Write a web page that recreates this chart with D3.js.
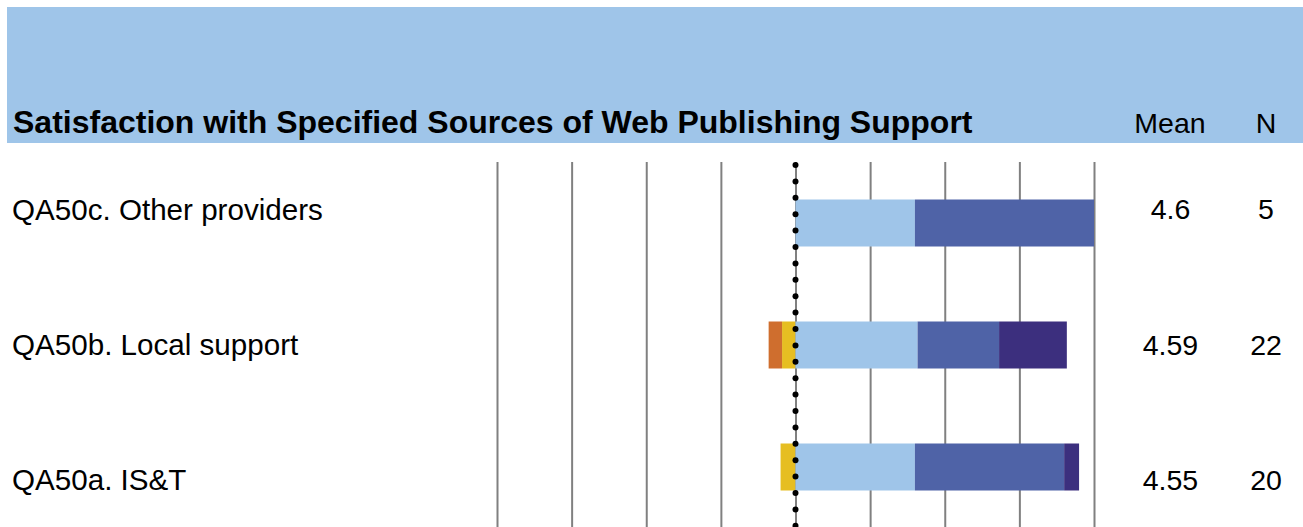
<!DOCTYPE html>
<html><head><meta charset="utf-8">
<script src="https://cdn.jsdelivr.net/npm/d3@7"></script>
<style>html,body{margin:0;padding:0;background:#fff;}svg{display:block;}</style>
</head><body>
<svg id="c" width="1303" height="527"></svg>
<script>
const title = "Satisfaction with Specified Sources of Web Publishing Support";
const categories = ["QA50c. Other providers", "QA50b. Local support", "QA50a. IS&T"];
const pctDissatisfied   = [0, 4.5, 0];
const pctSomewhatDiss   = [0, 4.5, 5];
const pctSomewhatSat    = [40, 40.9, 40];
const pctSatisfied      = [60, 27.3, 50];
const pctVerySatisfied  = [0, 22.7, 5];
const means = ["4.6", "4.59", "4.55"];
const ns = ["5", "22", "20"];
const tickValues = [-100, -75, -50, -25, 0, 25, 50, 75, 100];

const colNeg = ["#CF6E2E", "#E6BE22"]; // outer, inner
const colPos = ["#9FC5E9", "#4F63A7", "#3C2F7E"];

const svg = d3.select("#c");
const font = "'Liberation Sans', Arial, sans-serif";

// header band
svg.append("rect").attr("x", 7).attr("y", 7).attr("width", 1296).attr("height", 136).attr("fill", "#9FC5E9");
svg.append("text").attr("x", 13).attr("y", 132.5).attr("font-family", font).attr("font-weight", "bold")
  .attr("font-size", 32).attr("fill", "#000").text(title);
svg.append("text").attr("x", 1170).attr("y", 132.5).attr("text-anchor", "middle").attr("font-family", font)
  .attr("font-size", 28.5).text("Mean");
svg.append("text").attr("x", 1266).attr("y", 132.5).attr("text-anchor", "middle").attr("font-family", font)
  .attr("font-size", 28.5).text("N");

const x = d3.scaleLinear().domain([-100, 100]).range([497, 1094]);
const y = d3.scaleBand().domain(categories).range([162, 528]).padding(0);
const yText = d3.scaleBand().domain(categories).range([141.5, 547.5]).padding(0);
const barH = 47;

// gridlines
const axis = d3.axisBottom(x).tickValues(tickValues).tickSize(366).tickFormat("");
const g = svg.append("g").attr("transform", "translate(0,162)").call(axis);
g.select(".domain").remove();
g.selectAll(".tick line").attr("stroke", "#808080").attr("stroke-width", 2);

// bars
categories.forEach((c, i) => {
  const cy = y(c) + y.bandwidth() / 2;
  const ty = yText(c) + yText.bandwidth() / 2;
  const segs = [];
  let left = 0;
  left -= pctSomewhatDiss[i]; segs.push([left, left + pctSomewhatDiss[i], colNeg[1]]);
  left -= pctDissatisfied[i]; segs.push([left, left + pctDissatisfied[i], colNeg[0]]);
  let right = 0;
  [pctSomewhatSat[i], pctSatisfied[i], pctVerySatisfied[i]].forEach((v, k) => {
    segs.push([right, right + v, colPos[k]]); right += v;
  });
  svg.append("g").selectAll("rect").data(segs.filter(s => s[1] > s[0])).join("rect")
    .attr("x", d => x(d[0])).attr("width", d => x(d[1]) - x(d[0]))
    .attr("y", cy - barH / 2).attr("height", barH).attr("fill", d => d[2]);

  svg.append("text").attr("x", 12).attr("y", ty).attr("dy", "0.36em").attr("font-family", font)
    .attr("font-size", 29.6).text(c);
  svg.append("text").attr("x", 1170.5).attr("y", ty).attr("dy", "0.36em").attr("text-anchor", "middle")
    .attr("font-family", font).attr("font-size", 28.5).text(means[i]);
  svg.append("text").attr("x", 1266).attr("y", ty).attr("dy", "0.36em").attr("text-anchor", "middle")
    .attr("font-family", font).attr("font-size", 28.5).text(ns[i]);
});

// dotted zero line
const dots = d3.range(165, 530, 16.4);
svg.append("g").selectAll("circle").data(dots).join("circle")
  .attr("cx", x(0)).attr("cy", d => d).attr("r", 3).attr("fill", "#000");
</script>
</body></html>
